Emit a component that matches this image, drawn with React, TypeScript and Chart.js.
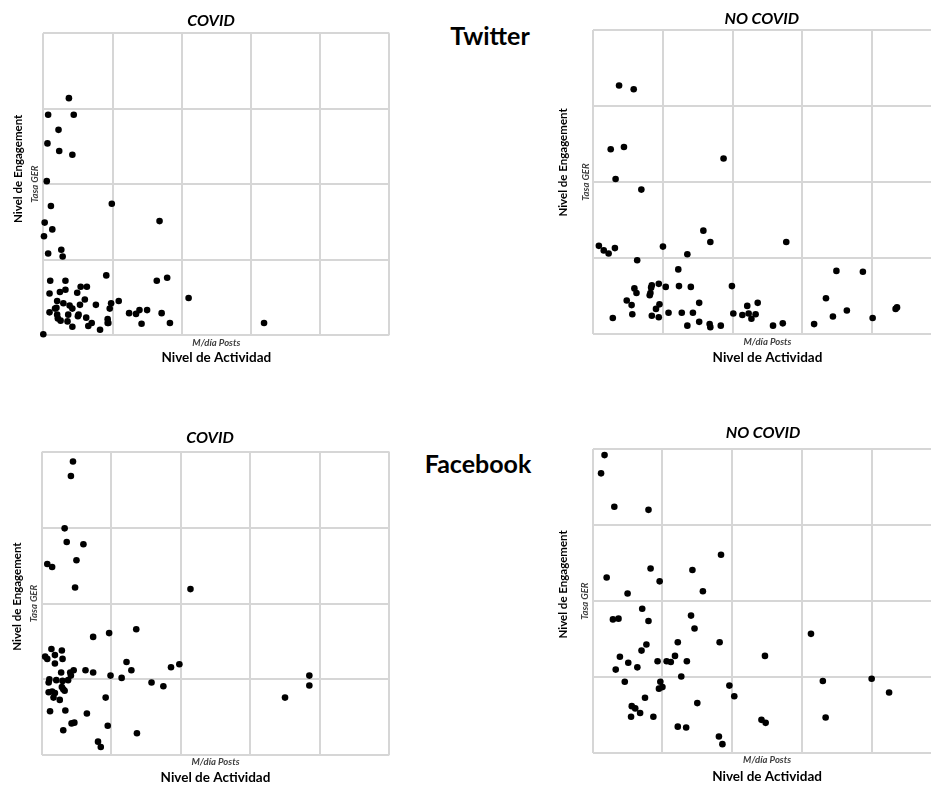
import React, { useEffect, useRef } from "react";
import { Chart, registerables } from "chart.js";

Chart.register(...registerables);

const FONT = "Lato, 'Open Sans', sans-serif";

// ---- text ----
const panelTitles = ["COVID", "NO COVID", "COVID", "NO COVID"];
const platformLabels = ["Twitter", "Facebook"];
const yTitleOuter = "Nivel de Engagement";
const yTitleInner = "Tasa GER";
const xTitleInner = "M/día Posts";
const xTitleOuter = "Nivel de Actividad";

// ---- axis ranges (grid cells, no tick labels) ----
const xTicksMax = 5;
const yTicksMax = 4;

// ---- data: [M/día Posts, Tasa GER] in grid units ----
const twitterCovid: number[][] = [
  [0.37, 3.14], [0.07, 2.92], [0.44, 2.92], [0.22, 2.72], [0.06, 2.54], [0.23, 2.44], [0.42, 2.39],
  [0.05, 2.04], [0.99, 1.74], [0.11, 1.71], [1.68, 1.51], [0.02, 1.49], [0.13, 1.40], [0.01, 1.31],
  [0.26, 1.13], [0.07, 1.08], [0.28, 1.04], [0.91, 0.79], [0.10, 0.72], [0.32, 0.72], [1.64, 0.72],
  [1.79, 0.76], [0.54, 0.64], [0.63, 0.64], [0.32, 0.60], [0.09, 0.55], [0.24, 0.57], [0.49, 0.56],
  [0.20, 0.45], [0.60, 0.47], [0.29, 0.42], [0.38, 0.39], [0.17, 0.35], [0.42, 0.35], [0.53, 0.40],
  [0.76, 0.40], [0.98, 0.42], [1.09, 0.45], [0.96, 0.35], [0.09, 0.30], [0.20, 0.27], [0.36, 0.27],
  [0.51, 0.27], [0.50, 0.25], [0.62, 0.23], [0.25, 0.19], [0.35, 0.18], [0.42, 0.11], [0.65, 0.12],
  [0.70, 0.16], [0.82, 0.07], [0.93, 0.21], [0.93, 0.16], [0.94, 0.16], [1.24, 0.29], [1.34, 0.28],
  [1.39, 0.33], [1.50, 0.33], [1.42, 0.15], [1.71, 0.29], [1.83, 0.16], [2.10, 0.49], [3.19, 0.16],
  [0.00, 0.01], [0.19, 0.36], [0.21, 0.22],
];

const twitterNoCovid: number[][] = [
  [0.37, 3.27], [0.58, 3.22], [0.25, 2.43], [0.44, 2.46], [0.32, 2.04], [0.69, 1.90], [1.87, 2.31],
  [1.58, 1.36], [1.68, 1.21], [2.77, 1.21], [0.08, 1.16], [0.15, 1.10], [0.22, 1.06], [0.31, 1.13],
  [1.00, 1.15], [1.35, 1.05], [0.63, 0.97], [1.22, 0.85], [3.49, 0.83], [3.87, 0.82], [0.59, 0.60],
  [0.62, 0.54], [0.83, 0.61], [0.84, 0.64], [0.94, 0.66], [1.04, 0.62], [1.23, 0.63], [1.40, 0.62],
  [1.99, 0.63], [0.81, 0.51], [0.82, 0.54], [0.48, 0.44], [0.55, 0.38], [0.95, 0.39], [0.90, 0.33],
  [1.52, 0.41], [2.21, 0.37], [2.36, 0.41], [3.34, 0.47], [0.56, 0.26], [0.84, 0.24], [0.94, 0.22],
  [1.08, 0.28], [1.27, 0.28], [1.43, 0.28], [2.01, 0.27], [2.14, 0.25], [2.23, 0.27], [2.27, 0.20],
  [2.33, 0.26], [3.44, 0.23], [3.64, 0.31], [4.34, 0.33], [4.36, 0.35], [0.28, 0.21], [1.35, 0.11],
  [1.52, 0.16], [1.67, 0.13], [1.68, 0.09], [1.83, 0.11], [2.58, 0.11], [2.72, 0.14], [3.17, 0.13],
  [4.01, 0.21],
];

const facebookCovid: number[][] = [
  [0.45, 3.87], [0.42, 3.68], [0.33, 2.99], [0.36, 2.81], [0.60, 2.78], [0.50, 2.57], [0.08, 2.52],
  [0.15, 2.48], [0.48, 2.21], [2.14, 2.19], [1.36, 1.66], [0.97, 1.61], [0.74, 1.56], [0.14, 1.40],
  [0.29, 1.38], [0.05, 1.30], [0.19, 1.32], [0.08, 1.27], [0.30, 1.27], [0.19, 1.21], [1.22, 1.23],
  [1.98, 1.20], [1.86, 1.16], [0.63, 1.12], [0.74, 1.09], [0.46, 1.12], [0.41, 1.09], [0.28, 1.09],
  [1.29, 1.12], [0.99, 1.05], [1.15, 1.02], [0.11, 1.00], [0.21, 0.99], [0.30, 0.98], [0.38, 0.99],
  [0.42, 1.05], [0.10, 0.96], [1.58, 0.96], [1.75, 0.91], [3.85, 1.05], [3.85, 0.92], [3.50, 0.76],
  [0.29, 0.90], [0.31, 0.87], [0.33, 0.85], [0.10, 0.83], [0.15, 0.84], [0.19, 0.82], [0.17, 0.76],
  [0.26, 0.73], [0.92, 0.76], [0.12, 0.58], [0.34, 0.59], [0.65, 0.55], [0.43, 0.42], [0.47, 0.43],
  [0.95, 0.39], [0.31, 0.33], [1.37, 0.29], [0.81, 0.18], [0.85, 0.11],
];

const facebookNoCovid: number[][] = [
  [0.17, 3.92], [0.12, 3.68], [0.31, 3.24], [0.80, 3.20], [1.84, 2.61], [0.20, 2.31], [0.83, 2.43],
  [1.43, 2.41], [0.96, 2.26], [0.50, 2.10], [1.58, 2.13], [0.71, 1.90], [1.41, 1.81], [0.29, 1.76],
  [0.37, 1.77], [0.80, 1.74], [1.46, 1.64], [3.13, 1.57], [1.22, 1.46], [1.82, 1.46], [0.77, 1.43],
  [0.70, 1.35], [0.39, 1.27], [2.47, 1.28], [1.18, 1.28], [0.51, 1.19], [0.93, 1.21], [1.06, 1.21],
  [1.12, 1.20], [1.35, 1.21], [0.64, 1.13], [0.33, 1.10], [1.27, 1.01], [0.46, 0.94], [0.97, 0.94],
  [3.30, 0.95], [4.00, 0.98], [0.95, 0.85], [1.00, 0.87], [1.96, 0.89], [4.25, 0.80], [2.03, 0.75],
  [0.75, 0.73], [0.56, 0.62], [0.61, 0.59], [0.68, 0.53], [1.50, 0.66], [0.55, 0.48], [0.87, 0.48],
  [2.42, 0.44], [2.48, 0.40], [3.34, 0.47], [1.22, 0.35], [1.34, 0.34], [1.81, 0.22], [1.86, 0.12],
];

// ---- layout (page pixels) ----
type Geo = {
  l: number; t: number; r: number; b: number;
  titleX: number; titleY: number;
  yOuterX: number; yInnerX: number; yShift: number;
  xInnerY: number; xOuterY: number;
};

const geos: Geo[] = [
  { l: 43.3, t: 33.3, r: 389.3, b: 335, titleX: 211, titleY: 21, yOuterX: 18.7, yInnerX: 34.8, yShift: 16, xInnerY: 343, xOuterY: 358 },
  { l: 593.3, t: 30, r: 941.6, b: 334, titleX: 761.7, titleY: 19, yOuterX: 563.7, yInnerX: 585.8, yShift: 19, xInnerY: 342.3, xOuterY: 357.5 },
  { l: 41.7, t: 451.7, r: 389.3, b: 755.3, titleX: 210, titleY: 438, yOuterX: 17.5, yInnerX: 34.3, yShift: 7, xInnerY: 762, xOuterY: 778 },
  { l: 592.7, t: 449, r: 941.4, b: 753.3, titleX: 763, titleY: 433, yOuterX: 563.3, yInnerX: 585.3, yShift: 17, xInnerY: 760, xOuterY: 777 },
];

const TITLE_SIZE = 16;
const Y_OUT_SIZE = 11.5;
const X_OUT_SIZE = 13.5;
const SMALL_SIZE = 9.5;
const PLATFORM_SIZE = 25;
const LH = 1.2;

function computeLayout(g: Geo) {
  const yOutLH = Y_OUT_SIZE * LH;
  const xOutLH = X_OUT_SIZE * LH;
  const smallLH = SMALL_SIZE * LH;
  const titleLH = TITLE_SIZE * LH;
  const cl = Math.floor(g.yOuterX - yOutLH / 2 - 2);
  const ct = Math.floor(g.titleY - titleLH / 2 - 2);
  const E = 2 * g.titleX - cl - g.r;
  const W = Math.ceil(g.r + E - cl + 1);
  const pr = W - (g.r + E - cl);
  const H = Math.ceil(g.xOuterY + xOutLH / 2 + 1 - ct);
  const pb = H - (g.xOuterY + xOutLH / 2 - ct);
  return {
    cl, ct, W, H, pr, pb, E,
    titleTop: g.titleY - titleLH / 2 - ct,
    titleBottom: Math.max(0, g.t - (g.titleY + titleLH / 2)),
    y2Top: g.yOuterX - yOutLH / 2 - cl,
    y2Bottom: Math.max(0, g.yInnerX - smallLH / 2 - (g.yOuterX + yOutLH / 2)),
    yBottom: Math.max(0, g.l - (g.yInnerX + smallLH / 2)),
    xTop: Math.max(0, g.xInnerY - smallLH / 2 - g.b),
    x2Top: Math.max(0, g.xOuterY - xOutLH / 2 - (g.xInnerY + smallLH / 2)),
    y3Pad: Math.max(0, E - smallLH),
  };
}

function padLeading(text: string, shift: number) {
  const c = document.createElement("canvas").getContext("2d");
  if (!c) return text;
  c.font = `bold ${Y_OUT_SIZE}px ${FONT}`;
  const w = c.measureText("\u00A0").width || 3;
  const n = Math.max(0, Math.round((2 * shift) / w));
  return "\u00A0".repeat(n) + text;
}

const GRID_COLOR = "#d6d6d6";
const SMALL_COLOR = "#404040";

function Panel({ data, title, g }: { data: number[][]; title: string; g: Geo }) {
  const ref = useRef<HTMLCanvasElement>(null);
  const L = computeLayout(g);

  useEffect(() => {
    if (!ref.current) return;
    const smallFont = { family: FONT, size: SMALL_SIZE, weight: "bold" as const, style: "italic" as const, lineHeight: LH };
    const hiddenGrid = { display: false, drawTicks: false, tickLength: 0 };
    const chart = new Chart(ref.current, {
      type: "scatter",
      data: {
        datasets: [
          {
            data: data.map(([x, y]) => ({ x, y })),
            pointRadius: 3.3,
            pointHoverRadius: 3.3,
            backgroundColor: "#000",
            borderWidth: 0,
            clip: false as any,
          },
        ],
      },
      options: {
        responsive: false,
        animation: false,
        events: [],
        layout: { autoPadding: false, padding: { left: 0, top: 0, right: L.pr, bottom: L.pb } },
        plugins: {
          legend: { display: false },
          tooltip: { enabled: false },
          title: {
            display: true,
            text: title,
            color: "#000",
            font: { family: FONT, size: TITLE_SIZE, weight: "bold", style: "italic", lineHeight: LH },
            padding: { top: L.titleTop, bottom: L.titleBottom },
          },
        },
        scales: {
          x: {
            type: "linear", position: "bottom", weight: 0, min: 0, max: xTicksMax,
            ticks: { display: false, stepSize: 1 },
            grid: { color: GRID_COLOR, lineWidth: 2, drawTicks: false, tickLength: 0 },
            border: { display: false },
            title: { display: true, text: xTitleInner, color: SMALL_COLOR, font: smallFont, padding: { top: L.xTop, bottom: 0 } },
          },
          x2: {
            type: "linear", position: "bottom", weight: 1, min: 0, max: 1,
            ticks: { display: false }, grid: hiddenGrid, border: { display: false },
            title: {
              display: true, text: xTitleOuter, color: "#000",
              font: { family: FONT, size: X_OUT_SIZE, weight: "bold", lineHeight: LH },
              padding: { top: L.x2Top, bottom: 0 },
            },
          },
          y: {
            type: "linear", position: "left", weight: 0, min: 0, max: yTicksMax,
            ticks: { display: false, stepSize: 1 },
            grid: { color: GRID_COLOR, lineWidth: 2, drawTicks: false, tickLength: 0 },
            border: { display: false },
            title: { display: true, text: yTitleInner, color: SMALL_COLOR, font: smallFont, padding: { top: 0, bottom: L.yBottom } },
          },
          y2: {
            type: "linear", position: "left", weight: 1, min: 0, max: 1,
            ticks: { display: false }, grid: hiddenGrid, border: { display: false },
            title: {
              display: true, text: padLeading(yTitleOuter, g.yShift), color: "#000",
              font: { family: FONT, size: Y_OUT_SIZE, weight: "bold", lineHeight: LH },
              padding: { top: L.y2Top, bottom: L.y2Bottom },
            },
          },
          y3: {
            type: "linear", position: "right", weight: 0, min: 0, max: 1,
            ticks: { display: false }, grid: hiddenGrid, border: { display: false },
            title: { display: true, text: "", font: smallFont, padding: { top: 0, bottom: L.y3Pad } },
          },
        },
      } as any,
    });
    return () => chart.destroy();
  }, [data, title, g]);

  return (
    <canvas
      ref={ref}
      width={L.W}
      height={L.H}
      style={{ position: "absolute", left: L.cl, top: L.ct, width: L.W, height: L.H }}
    />
  );
}

const panelData = [twitterCovid, twitterNoCovid, facebookCovid, facebookNoCovid];
const platformPos = [
  { x: 490, y: 35 },
  { x: 478, y: 463 },
];

export default function App() {
  return (
    <div
      style={{
        position: "fixed", left: 0, top: 0, width: 931, height: 785,
        overflow: "hidden", background: "#fff",
      }}
    >
      {panelData.map((d, i) => (
        <Panel key={i} data={d} title={panelTitles[i]} g={geos[i]} />
      ))}
      {platformLabels.map((t, i) => (
        <div
          key={t}
          style={{
            position: "absolute", left: platformPos[i].x, top: platformPos[i].y,
            transform: "translate(-50%, -50%)", fontFamily: FONT, fontWeight: 700,
            fontSize: PLATFORM_SIZE, lineHeight: 1, color: "#000", whiteSpace: "nowrap",
          }}
        >
          {t}
        </div>
      ))}
    </div>
  );
}
